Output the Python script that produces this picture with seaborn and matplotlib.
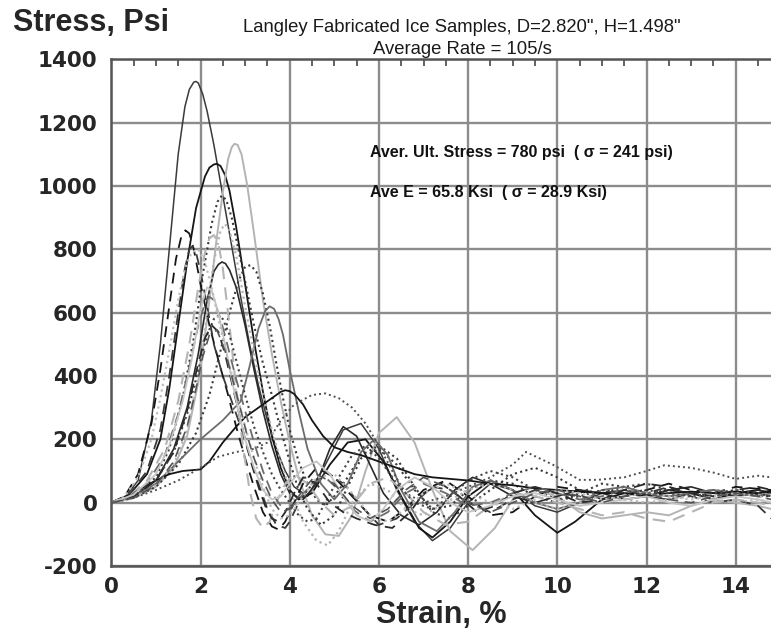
import numpy as np
import pandas as pd
import matplotlib
matplotlib.use("Agg")
import matplotlib.pyplot as plt
from matplotlib.ticker import MultipleLocator
import seaborn as sns

sns.set_style("white")
plt.rcParams['font.family'] = ['Liberation Sans', 'DejaVu Sans']
plt.rcParams['axes.unicode_minus'] = False

# ---------------- data ----------------
title_line1 = 'Langley Fabricated Ice Samples, D=2.820", H=1.498"'
title_line2 = 'Average Rate = 105/s'
note_line1 = 'Aver. Ult. Stress = 780 psi  ( \u03c3 = 241 psi)'
note_line2 = 'Ave E = 65.8 Ksi  ( \u03c3 = 28.9 Ksi)'
y_label = 'Stress, Psi'
x_label = 'Strain, %'
x_ticks = [0, 2, 4, 6, 8, 10, 12, 14]
y_ticks = [-200, 0, 200, 400, 600, 800, 1000, 1200, 1400]

s01_strain = [0,0.3,0.6,0.9,1.1,1.3,1.5,1.65,1.75,1.85,1.9,1.95,2.05,2.15,2.3,2.5,2.7,2.9,3.1,3.3,3.5,3.7,3.9,4.1,4.4,4.8,5.2,5.6,6.0,6.4,6.8,7.2,7.6,8.0,8.5,9.0,9.5,10.0,10.5,11,11.5,12,12.5,13,13.5,14,14.5,14.8]
s01_stress = [0,15,70,260,500,800,1100,1250,1305,1328,1330,1325,1290,1235,1130,970,810,650,500,370,260,170,100,50,20,120,230,250,170,40,-60,-120,-80,0,60,40,-10,-30,0,30,40,20,10,30,40,20,30,40]

s02_strain = [0,0.4,0.8,1.1,1.3,1.5,1.7,1.9,2.1,2.2,2.3,2.37,2.45,2.55,2.65,2.8,3.0,3.2,3.4,3.6,3.8,4.0,4.2,4.5,4.9,5.3,5.7,6.1,6.5,6.9,7.2,7.6,8.0,8.5,9.0,9.5,10.0,10.4,11,11.5,12,12.5,13,13.5,14,14.5,14.8]
s02_stress = [0,25,90,200,360,560,760,930,1030,1058,1068,1070,1063,1035,985,870,690,510,350,210,110,40,10,30,120,190,200,130,20,-80,-110,-60,20,70,40,-40,-95,-60,10,30,20,40,30,10,30,40,30]

s03_strain = [0,0.5,1.0,1.4,1.7,1.95,2.15,2.35,2.5,2.62,2.7,2.76,2.83,2.92,3.05,3.2,3.4,3.6,3.8,4.0,4.2,4.5,4.8,5.1,5.4,5.7,6.0,6.4,6.8,7.2,7.6,8.1,8.6,9.0,9.5,10,10.5,11,11.5,12,12.5,13,13.5,14,14.5,14.8]
s03_stress = [0,15,50,110,210,380,580,820,980,1085,1122,1133,1130,1100,1000,850,640,470,320,190,80,-40,-100,-105,-40,100,220,270,190,40,-90,-150,-80,10,40,20,-30,-50,-40,-30,-40,-10,10,0,-10,-20]

s04_strain = [0,0.5,1.0,1.3,1.6,1.85,2.05,2.25,2.38,2.48,2.58,2.7,2.85,3.0,3.2,3.4,3.6,3.8,4.0,4.2,4.4,4.7,5.0,5.3,5.6,6.0,6.4,6.8,7.2,7.6,8.0,8.5,9.0,9.5,10,10.5,11,11.5,12,12.5,13,13.5,14,14.8]
s04_stress = [0,20,80,170,330,520,720,880,950,970,955,900,800,700,560,440,340,230,130,40,-20,-70,-40,50,140,170,120,40,-20,-10,40,70,60,20,0,30,60,50,30,40,30,20,30,20]

s05_strain = [0,0.3,0.6,0.9,1.1,1.3,1.45,1.57,1.66,1.75,1.85,2.0,2.2,2.4,2.6,2.8,3.0,3.2,3.4,3.6,3.75,3.9,4.1,4.3,4.6,5.0,5.4,5.8,6.2,6.6,7.0,7.5,8.0,8.5,9.0,9.5,10,10.5,11,11.5,12,12.5,13,13.5,14,14.8]
s05_stress = [0,20,90,250,420,620,770,840,860,850,800,690,560,450,350,240,140,50,-30,-75,-85,-60,0,60,110,80,20,-40,-60,-20,40,70,20,-40,-30,20,50,40,10,20,40,60,40,30,50,40]

s06_strain = [0,0.4,0.8,1.1,1.3,1.5,1.65,1.75,1.82,1.9,2.0,2.15,2.3,2.5,2.7,2.9,3.1,3.3,3.5,3.7,3.9,4.0,4.2,4.5,4.8,5.2,5.6,6.0,6.4,6.8,7.2,7.6,8.0,8.5,9.0,9.5,10,11,12,12.5,13,13.5,14,14.5,14.8]
s06_stress = [0,25,100,230,400,600,740,800,810,790,730,620,500,400,320,240,150,60,-20,-70,-80,-60,0,60,100,60,-10,-70,-50,0,50,40,0,-30,10,40,30,10,30,50,20,0,10,-10,-50]

s07_strain = [0,0.5,1.0,1.4,1.7,1.95,2.15,2.3,2.4,2.48,2.56,2.65,2.8,3.0,3.2,3.4,3.6,3.8,4.0,4.3,4.6,4.9,5.2,5.5,5.8,6.1,6.5,6.9,7.3,7.7,8.1,8.5,9.0,9.5,10,10.5,11,11.5,12,12.5,13,13.5,14,14.5,14.8]
s07_stress = [0,20,70,170,300,470,640,730,752,760,755,735,680,560,420,290,180,90,30,10,60,170,240,210,120,30,-40,-70,-30,40,80,60,20,0,20,40,30,10,20,40,50,30,20,40,30]

s08_strain = [0,0.5,1.0,1.5,1.9,2.2,2.45,2.65,2.85,3.0,3.12,3.25,3.4,3.55,3.7,3.85,4.0,4.2,4.4,4.6,4.8,5.0,5.3,5.6,6.0,6.4,6.8,7.2,7.6,8.0,8.5,9.0,9.5,10,10.5,11,11.5,12,12.5,13,13.5,14,14.8]
s08_stress = [0,15,50,120,220,340,480,600,700,745,750,730,660,560,440,330,230,130,60,10,-10,20,80,150,180,140,50,-30,-50,-10,40,90,110,80,40,30,50,60,40,30,40,30,20]

s09_strain = [0,0.5,1.0,1.5,2.0,2.5,2.9,3.1,3.3,3.45,3.55,3.65,3.75,3.85,4.0,4.2,4.4,4.7,5.0,5.3,5.6,5.9,6.2,6.5,6.9,7.3,7.7,8.1,8.5,9.0,9.5,10,10.5,11,11.5,12,12.5,13,13.5,14,14.5,14.8]
s09_stress = [0,20,60,130,200,260,320,430,550,605,620,612,580,530,420,290,170,60,10,60,160,200,150,40,-60,-90,-30,50,70,40,0,-20,0,40,50,30,20,30,40,30,20,30]

s10_strain = [0,0.3,0.6,1.0,1.3,1.6,2.0,2.2,2.5,2.8,3.0,3.3,3.6,3.8,3.9,4.0,4.1,4.3,4.5,4.75,5.0,5.3,5.6,6.0,6.4,6.8,7.2,7.6,8.0,8.5,9.0,9.5,10,10.5,11,11.5,12,12.5,13,13.5,14,14.5,14.8]
s10_stress = [0,15,40,70,90,100,105,130,190,240,270,300,330,350,355,352,343,310,260,210,175,160,150,130,110,90,80,75,70,60,55,45,40,35,30,30,25,30,35,30,35,30,35]

s11_strain = [0,0.5,1.0,1.5,2.0,2.4,2.8,3.2,3.5,3.8,4.1,4.5,4.8,5.1,5.4,5.7,6.0,6.3,6.6,7.0,7.5,8.0,8.5,9.0,9.3,9.9,10.5,10.9,11.5,12.0,12.4,13.0,13.5,14.0,14.5,14.8]
s11_stress = [0,15,40,70,110,145,160,170,190,260,310,340,345,330,300,250,180,100,30,0,20,50,80,120,160,120,72,72,80,100,118,110,95,75,85,80]

s12_strain = [0,0.5,1.0,1.4,1.7,1.95,2.15,2.3,2.45,2.55,2.65,2.8,3.0,3.2,3.4,3.6,3.8,4.0,4.3,4.6,4.85,5.1,5.4,5.8,6.2,6.6,7.0,7.5,8.0,8.5,9.0,9.5,10,10.5,11,11.5,12,12.5,13,13.5,14,14.5,14.8]
s12_stress = [0,15,55,120,230,400,600,760,860,880,860,780,620,470,340,230,130,40,-60,-120,-135,-90,0,60,40,-20,-40,0,40,60,40,0,-20,0,20,10,0,10,20,10,0,10,0]

s13_strain = [0,0.4,0.8,1.2,1.5,1.75,1.95,2.1,2.2,2.3,2.4,2.5,2.65,2.8,2.95,3.1,3.25,3.4,3.55,3.7,3.9,4.1,4.4,4.7,5.0,5.4,5.8,6.2,6.6,7.0,7.5,8.0,8.5,9.0,9.5,10,10.5,11,11.5,12,12.5,13,13.5,14,14.5,14.8]
s13_stress = [0,20,70,170,320,500,680,790,835,845,820,740,560,360,180,40,-50,-80,-60,0,60,90,60,0,-40,-10,60,80,30,-30,-70,-60,-10,30,20,0,-20,-40,-30,-50,-60,-30,0,10,0,-10]

s14_strain = [0,0.4,0.8,1.2,1.5,1.75,1.95,2.1,2.2,2.3,2.45,2.6,2.8,3.0,3.2,3.4,3.6,3.8,4.0,4.2,4.5,4.8,5.1,5.4,5.8,6.2,6.6,7.0,7.5,8.0,8.5,9.0,9.5,10,10.5,11,11.5,12,12.5,13,13.5,14,14.5,14.8]
s14_stress = [0,20,60,150,280,430,560,630,650,640,580,500,390,290,190,100,30,-10,-20,10,60,80,40,-20,-60,-30,30,60,30,-10,0,30,50,30,10,20,40,30,20,30,40,30,20,30]

s15_strain = [0,0.5,1.0,1.4,1.7,1.95,2.15,2.3,2.4,2.5,2.65,2.8,3.0,3.2,3.4,3.6,3.8,4.0,4.2,4.4,4.6,4.8,5.1,5.4,5.7,6.0,6.4,6.8,7.2,7.6,8.0,8.5,9.0,9.5,10,10.5,11,11.5,12,12.5,13,13.5,14,14.5,14.8]
s15_stress = [0,20,70,160,280,420,530,580,590,580,530,450,340,240,160,90,40,0,-40,-60,-50,0,80,150,180,140,60,0,-20,20,70,100,80,40,10,20,40,30,40,30,20,30,40,30,20]

s16_strain = [0,0.5,1.0,1.4,1.7,1.95,2.1,2.25,2.4,2.55,2.7,2.85,3.0,3.15,3.3,3.45,3.6,3.75,3.9,4.1,4.3,4.6,4.9,5.2,5.5,5.9,6.3,6.7,7.0,7.4,7.8,8.2,8.6,9.0,9.5,10,10.5,11,11.5,12,12.5,13,13.5,14,14.5,14.8]
s16_stress = [0,20,70,160,290,440,520,560,540,470,380,290,200,120,50,-10,-50,-60,-30,30,80,60,0,-30,-50,-70,-80,-30,30,60,20,-30,-10,30,50,30,0,10,40,60,50,30,20,40,50,40]

s17_strain = [0,0.5,1.0,1.3,1.6,1.8,1.95,2.05,2.15,2.25,2.4,2.55,2.7,2.85,3.0,3.2,3.4,3.6,3.8,4.0,4.3,4.6,4.9,5.2,5.5,5.8,6.1,6.4,6.8,7.2,7.6,8.0,8.5,9.0,9.5,10,10.5,11,11.5,12,12.5,13,13.5,14,14.5,14.8]
s17_stress = [0,25,90,180,320,450,570,640,680,670,600,500,390,290,200,110,40,10,20,60,110,130,90,20,-40,-60,-20,40,80,50,0,-30,-10,20,30,10,-10,0,10,20,0,-10,10,20,10,0]

s18_strain = [0,0.3,0.6,0.9,1.1,1.3,1.5,1.65,1.8,1.95,2.1,2.25,2.4,2.6,2.8,3.0,3.2,3.4,3.6,3.8,4.0,4.3,4.6,5.0,5.4,5.8,6.2,6.6,7.0,7.5,8.0,8.5,9.0,9.5,10,10.5,11,11.5,12,12.5,13,13.5,14,14.5,14.8]
s18_stress = [0,20,80,200,330,480,640,740,790,800,760,680,580,460,350,240,140,50,-20,-50,-40,20,80,90,30,-40,-60,-20,30,60,30,0,-20,10,40,30,10,20,30,20,10,20,30,20,10]

s19_strain = [0,0.5,1.0,1.4,1.7,1.9,2.05,2.2,2.37,2.55,2.7,2.89,3.05,3.2,3.4,3.6,3.8,4.0,4.3,4.6,5.0,5.4,5.8,6.2,6.6,7.0,7.5,8.0,8.5,9.0,9.5,10,10.5,11,11.5,12,12.5,13,13.5,14,14.5,14.8]
s19_stress = [0,15,55,130,240,360,460,530,545,480,400,300,210,140,70,10,-30,-20,40,90,60,-10,-50,-20,40,80,50,0,-30,0,30,40,20,0,20,30,10,0,20,30,20,10]

# ---------------- styling ----------------
DARK = '#3a3a3a'
BLACK = '#151515'
MID = '#6c6c6c'
LIGHT = '#b4b4b4'
DOT = (0, (1.0, 1.6))
DASH = (0, (6, 4))
SOLID = '-'

curves = [
    (s01_strain, s01_stress, DARK, SOLID, 1.1),
    (s02_strain, s02_stress, BLACK, SOLID, 1.3),
    (s03_strain, s03_stress, LIGHT, SOLID, 1.4),
    (s04_strain, s04_stress, DARK, DOT, 1.5),
    (s05_strain, s05_stress, BLACK, DASH, 1.3),
    (s06_strain, s06_stress, DARK, DASH, 1.3),
    (s07_strain, s07_stress, '#2a2a2a', SOLID, 1.2),
    (s08_strain, s08_stress, DARK, DOT, 1.5),
    (s09_strain, s09_stress, MID, SOLID, 1.3),
    (s10_strain, s10_stress, BLACK, SOLID, 1.3),
    (s11_strain, s11_stress, '#505050', DOT, 1.4),
    (s12_strain, s12_stress, LIGHT, DOT, 1.6),
    (s13_strain, s13_stress, LIGHT, DASH, 1.5),
    (s14_strain, s14_stress, MID, DASH, 1.3),
    (s15_strain, s15_stress, '#444444', DOT, 1.5),
    (s16_strain, s16_stress, '#2a2a2a', DASH, 1.3),
    (s17_strain, s17_stress, '#c4c4c4', SOLID, 1.3),
    (s18_strain, s18_stress, '#bdbdbd', DOT, 1.6),
    (s19_strain, s19_stress, '#555555', DASH, 1.2),
]

W, H = 771, 632
fig = plt.figure(figsize=(W / 100, H / 100), dpi=100)
ax_left, ax_right = 111.3, 771.0
ax_top, ax_bot = 59.3, 566.0
ax = fig.add_axes([ax_left / W, 1 - ax_bot / H, (ax_right - ax_left) / W, (ax_bot - ax_top) / H])

for sx, sy, col, ls, lw in curves:
    sns.lineplot(x=sx, y=sy, ax=ax, color=col, linestyle=ls, linewidth=lw,
                 sort=False, estimator=None, legend=False)

ax.set_xlim(0, (ax_right - ax_left) / 44.6)
ax.set_ylim(-200, 1400)
ax.set_xticks(x_ticks)
ax.set_yticks(y_ticks)
ax.xaxis.set_minor_locator(MultipleLocator(0.5))
ax.yaxis.set_minor_locator(MultipleLocator(50))
ax.set_axisbelow(True)
ax.grid(True, which='major', color='#8c8c8c', linewidth=1.7)
ax.tick_params(which='both', direction='in', top=True, right=False, color='#555555', width=1.3)
ax.tick_params(which='major', length=0)
ax.tick_params(which='minor', length=5)
ax.tick_params(axis='x', which='major', pad=8)
ax.tick_params(axis='y', which='major', pad=10)
for lab in ax.get_xticklabels() + ax.get_yticklabels():
    lab.set_fontsize(15.5)
    lab.set_fontweight('bold')
    lab.set_family(['DejaVu Sans'])
for side in ['left', 'bottom', 'top']:
    ax.spines[side].set_color('#555555')
    ax.spines[side].set_linewidth(1.8)
ax.spines['right'].set_visible(False)
ax.set_xlabel('')
ax.set_ylabel('')

plain = ['Liberation Sans', 'DejaVu Sans']
fig.text(13 / W, 1 - 31.5 / H, y_label, fontsize=22, fontweight='bold', ha='left', va='baseline')
fig.text(441 / W, 1 - 623 / H, x_label, fontsize=22, fontweight='bold', ha='center', va='baseline')
fig.text(462 / W, 1 - 32 / H, title_line1, fontsize=13.3, family=plain, ha='center', va='baseline', color='#1a1a1a')
fig.text(462 / W, 1 - 54 / H, title_line2, fontsize=13.3, family=plain, ha='center', va='baseline', color='#1a1a1a')
fig.text(370 / W, 1 - 153 / H, note_line1, fontsize=11.5, family=plain, fontweight='bold', ha='left', va='center', color='#111111')
fig.text(370 / W, 1 - 192 / H, note_line2, fontsize=11.5, family=plain, fontweight='bold', ha='left', va='center', color='#111111')

fig.savefig('out.png', dpi=100)
